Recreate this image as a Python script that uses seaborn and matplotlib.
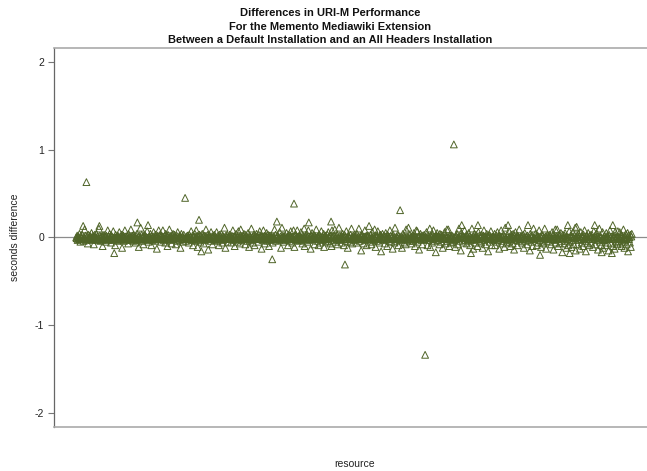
import numpy as np
import pandas as pd
import matplotlib
matplotlib.use("Agg")
import matplotlib.pyplot as plt
import seaborn as sns

# ---- data: seconds difference per resource, in hundredths for the dense core ----
core_hundredths = """
0 -1 2 -3 1 0 -2 4 -1 -5 2 0 -1 3 -2 1 -4 0 9 -1 2 -3 0 1 -2 -7 3 -1 0 2
-2 1 -1 5 -3 0 2 -1 -8 1 3 -2 0 -1 4 -3 1 -2 0 10 -1 2 -4 1 0 -3 2 -10 1 -1
3 -2 0 1 -5 2 -1 0 8 -3 1 -2 4 0 -1 -6 2 1 -3 0 7 -2 1 -1 -9 3 0 -2 1 -4
2 0 -1 6 -3 1 -2 0 3 -12 1 -1 2 -4 0 8 -2 1 -3 0 2 -1 -7 4 0 -2 1 -1 9 -3
0 2 -1 -4 3 1 -2 0 -6 2 -1 4 0 -3 1 -11 2 0 -1 11 -2 3 -4 1 0 -8 2 -1 3 -2
1 -3 0 7 -1 2 -5 0 1 -2 4 -1 -9 2 0 -3 1 6 -2 0 -4 3 -1 1 -13 0 2 -1 8 -2
-1 3 0 -5 2 -2 1 8 -3 0 -1 2 -6 4 0 -2 1 -10 3 -1 0 9 -3 1 -2 0 -7 2 -1 4
0 -2 3 -1 1 -8 0 2 -4 6 -1 0 -3 2 1 -12 0 4 -2 1 -5 0 3 -1 -2 10 0 -4 1 -1
2 -1 0 -6 3 -2 1 0 7 -3 -1 2 -9 0 1 -2 4 -4 0 8 -1 2 -11 1 -3 0 3 -1 -5 2
-1 0 4 -2 1 -7 2 0 -3 1 9 -1 -2 0 3 -14 1 -1 2 -4 0 6 -2 1 -8 0 2 -1 3 -3
1 -2 0 6 -1 -4 2 0 -9 3 -1 1 -2 4 0 -6 2 -3 1 0 11 -1 -12 2 0 -2 3 -5 1 -1
0 3 -2 1 -6 0 2 -1 8 -3 1 0 -10 2 -1 4 -2 0 -5 1 7 -1 0 -7 2 9 -3 1 -1 0
-2 1 4 -1 0 -8 3 -2 1 0 -4 5 -1 -11 2 0 1 -3 10 -2 0 -6 1 3 -1 -9 2 0 -2 4
1 -1 0 -5 3 -2 7 0 -1 2 -13 1 -3 0 8 -1 2 -7 0 1 -2 5 -4 0 3 -1 -10 2 0 -3
2 0 -1 4 -6 1 -2 0 9 -1 3 -4 0 -8 1 2 -1 0 -3 6 -2 1 -12 0 11 -1 2 -5 0 1
-1 2 -3 0 5 -2 1 -9 0 3 -1 -4 2 7 -1 0 -6 1 -2 8 0 -11 2 -1 3 -3 0 8 -2 1
0 -4 2 1 -1 6 -3 0 -7 2 -1 1 10 -10 0 -2 3 -1 0 -5 2 8 -1 -3 1 0 -13 2 -2 5
1 -1 0 3 -8 2 -2 0 9 -1 -4 1 0 -9 3 -1 2 -6 0 7 -2 1 -3 0 4 -11 1 -1 2 -5
-2 0 3 -1 6 -4 1 0 -7 2 -1 -10 8 0 1 -3 2 -1 9 -5 0 1 -2 3 -8 0 -1 11 -3 2
0 -1 2 -6 1 4 -2 0 -9 3 -1 1 -4 7 0 -2 -12 2 1 -1 0 -5 3 -2 10 0 -7 1 -1 2
-3 1 0 2 -1 -6 4 0 -2 1 10 -1 -4 0 2 -15 1 3 -2 0 -7 1 -1 8 0 -3 2 -9 1 0
2 -2 1 0 -5 3 -1 -8 0 6 -2 1 -3 0 9 -1 -11 2 0 -4 1 7 -1 0 -6 2 -2 3 -16 1
0 4 -1 -3 2 0 -7 1 5 -2 0 -10 3 -1 1 -4 0 8 -2 2 -5 0 1 -13 3 -1 0 -6 11 -2
-1 1 -4 0 3 -9 2 -1 0 6 -3 1 -2 -12 0 4 -1 2 -6 1 0 -8 9 -2 1 -3 0 11 -1 -4
3 0 -2 1 -7 0 2 -1 -4 5 1 -10 0 -2 8 -1 7 -5 0 1 -14 2 -1 4 0 -3 1 -8 2 0
-2 3 0 -5 1 -1 6 0 -9 2 -3 1 0 10 -11 -1 2 0 -6 3 -2 8 0 -4 1 -1 -17 2 0 5
1 -3 2 0 -8 4 -1 0 3 -5 1 -12 2 0 -2 6 -1 -7 1 0 9 -4 -1 9 0 -10 2 -2 1 -6
0 2 -5 1 -1 7 -3 0 -11 2 1 -2 4 0 -8 -1 10 0 -4 1 -15 5 -2 0 2 -6 1 -1 8 -3
-1 0 3 -7 2 -2 0 5 -4 1 -9 0 2 -1 10 -3 0 -13 1 4 -2 0 -6 3 -1 1 -10 0 6 -2
2 -4 1 0 -6 3 -1 -12 0 2 8 -3 1 -1 -8 0 4 -2 1 -16 0 3 -5 2 -1 7 0 -9 1 -3
0 1 -2 4 -9 0 -1 2 -5 6 -3 0 1 -13 2 -1 0 8 -4 1 -7 0 3 -2 -11 1 11 0 -1 -6
-3 2 0 -1 7 -5 1 -10 0 3 -2 1 -7 4 0 -14 2 -1 6 -3 0 1 -9 2 0 -4 9 -1 -2 1
1 0 -6 2 -2 3 -12 0 5 -1 -4 1 0 -8 2 7 -3 0 -1 -15 4 1 -5 0 2 -10 -2 10 0 -1
-2 4 -1 0 -9 1 2 -6 0 8 -3 -1 1 -11 0 3 -5 2 -1 -7 0 10 -2 1 -13 0 -4 3 -1 2
0 -5 3 1 -1 -8 0 6 -2 2 -14 1 -3 0 9 -6 1 -1 9 0 -10 -2 3 1 -7 0 5 -4 -1 -17
3 -1 0 -7 2 5 -4 0 -12 1 -2 3 -9 0 7 -1 -5 2 0 -11 1 -3 6 0 -8 2 -1 11 -15 0
-1 2 -8 0 4 -3 1 -13 0 6 -2 -6 1 0 -10 3 -1 8 -4 0 -16 2 1 -7 0 5 -2 -9 1 3
0 -6 1 3 -2 -11 0 7 -1 -4 2 -8 0 5 -3 1 -14 0 -1 10 -5 2 0 -9 1 -2 6 -12 0 -3
2 -3 0 -9 5 -1 1 -6 0 -15 3 -2 8 0 -7 1 -4 -1 4 -10 0 2 -13 6 -2 0 -5 1 -8 7
-4 1 -1 6 -7 0 3 -10 2 -2 -5 9 0 -12 1 -3 4 -1 -8 0 5 -16 2 -2 0 -6 3 -11 1 4
"""

# notable scattered points: resource index -> seconds difference
outlier_index = [16, 23, 51, 83, 133, 156, 236, 266, 271, 424, 434, 471, 503,
                 551, 581, 633, 700, 754, 816, 833, 853, 868, 933, 976, 1002,
                 1062, 1066, 1081, 1120, 1135, 1157, 1159]
outlier_value = [0.13, 0.63, 0.13, -0.18, 0.17, 0.14, 0.45, 0.20, -0.16,
                 -0.25, 0.18, 0.385, 0.17, 0.18, -0.31, 0.13, 0.31, -1.34,
                 1.06, 0.14, -0.18, 0.14, 0.14, 0.14, -0.20, 0.14, -0.18,
                 0.12, 0.14, -0.17, -0.18, 0.14]

y_ticks = [-2, -1, 0, 1, 2]
title_lines = ["Differences in URI-M Performance",
               "For the Memento Mediawiki Extension",
               "Between a Default Installation and an All Headers Installation"]

# ---- assemble ----
values = np.array([int(v) for v in core_hundredths.split()], dtype=float) / 100.0
for i, v in zip(outlier_index, outlier_value):
    values[i - 1] = v
n = len(values)
df = pd.DataFrame({"resource": np.arange(1, n + 1), "diff": values})

sns.set_theme(style="white")
plt.rcParams["font.family"] = ["Liberation Sans", "DejaVu Sans"]

W, H = 647, 471
fig = plt.figure(figsize=(W / 100, H / 100), dpi=100)
ax = fig.add_axes([54 / W, 44.3 / H, 600 / W, 378.7 / H])

ax.axhline(0, color="#8c8c8c", lw=0.9, zorder=1)
sns.scatterplot(data=df, x="resource", y="diff", ax=ax, marker="^", s=24,
                facecolors="none", edgecolor="#4f6428", linewidth=0.7,
                zorder=2, legend=False)

pad = 0.04 * (n - 1)
ax.set_xlim(1 - pad, n + pad)
ax.set_ylim(-2.16, 2.16)
ax.set_xticks([])
ax.set_yticks(y_ticks)
ax.set_yticklabels([str(t) for t in y_ticks])
ax.tick_params(axis="y", length=4, width=0.8, color="#777777", pad=3,
               labelsize=7.5, labelcolor="#222222", left=True)
ax.set_xlabel("")
ax.set_ylabel("")
for side in ["top", "bottom"]:
    ax.spines[side].set_color("#aaaaaa")
    ax.spines[side].set_linewidth(1.2)
ax.spines["left"].set_color("#666666")
ax.spines["left"].set_linewidth(0.9)
ax.spines["right"].set_visible(False)

fig.text(330 / W, 1 - 8 / H, "\n".join(title_lines), ha="center", va="top",
         fontsize=8, fontweight="bold", color="#111111", linespacing=1.45)
fig.text(15 / W, 1 - 237 / H, "seconds difference", rotation=90,
         ha="center", va="center", fontsize=7.5, color="#222222")
fig.text(355 / W, 1 - 464 / H, "resource", ha="center", va="center",
         fontsize=7.5, color="#222222")

fig.savefig("out.png", dpi=100)
